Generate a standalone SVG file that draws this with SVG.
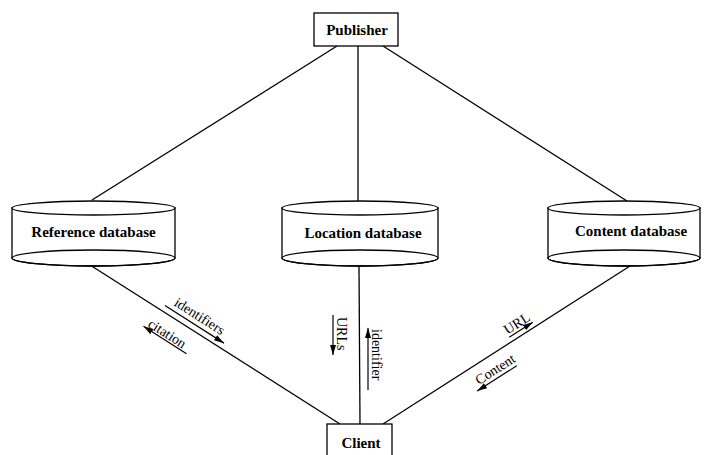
<svg xmlns="http://www.w3.org/2000/svg" width="705" height="455" viewBox="0 0 705 455">
<defs>
<marker id="ah" markerUnits="userSpaceOnUse" markerWidth="10" markerHeight="6" refX="10" refY="3" orient="auto">
<path d="M0,0 L10,3 L0,6 z" fill="#000"/>
</marker>
<style>
.ln{stroke:#000;stroke-width:1.3;fill:none}
.box{fill:#fff;stroke:#000;stroke-width:1.3}
.nl{font-family:"Liberation Serif",serif;font-weight:bold;font-size:15px;text-anchor:middle;fill:#000}
.el{font-family:"Liberation Serif",serif;font-size:14px;fill:#000}
.ar{stroke:#000;stroke-width:1.2;fill:none;marker-end:url(#ah)}
</style>
</defs>
<rect width="705" height="455" fill="#fff"/>
<g id="connectors">
<line class="ln" x1="337" y1="46" x2="92" y2="200"/>
<line class="ln" x1="358" y1="46" x2="358" y2="201"/>
<line class="ln" x1="383" y1="46" x2="627" y2="201"/>
<line class="ln" x1="90" y1="265" x2="340" y2="424"/>
<line class="ln" x1="359" y1="266" x2="360" y2="424"/>
<line class="ln" x1="630" y1="266" x2="383" y2="424"/>
<g transform="translate(90,265) rotate(32.46)">
<text class="el" x="120" y="-11" text-anchor="middle">identifiers</text>
<line class="ar" x1="85" y1="-6" x2="155" y2="-6"/>
<text class="el" x="102" y="21" text-anchor="middle">citation</text>
<line class="ar" x1="129" y1="23" x2="78" y2="23"/>
</g>
<g transform="translate(383,424) rotate(-32.6)">
<text class="el" x="167" y="-8" text-anchor="middle">URL</text>
<line class="ar" x1="153" y1="-5" x2="181" y2="-5"/>
<text class="el" x="124" y="19" text-anchor="middle">Content</text>
<line class="ar" x1="144" y1="23" x2="97" y2="23"/>
</g>
<text class="el" transform="translate(337,317) rotate(90)">URLs</text>
<line class="ar" x1="333" y1="315" x2="333" y2="355"/>
<text class="el" transform="translate(372,329) rotate(90)">identifier</text>
<line class="ar" x1="368" y1="390" x2="368" y2="328"/>
</g>
<g id="publisher">
<rect class="box" x="314" y="13" width="84" height="33"/>
<text class="nl" x="357" y="35">Publisher</text>
</g>
<g id="reference-db">
<path class="box" d="M12,208 L12,258 A81.5,8 0 0 0 175,258 L175,208 Z"/>
<ellipse class="box" cx="93.5" cy="208" rx="81.5" ry="7"/>
<ellipse class="ln" cx="93.5" cy="258" rx="81.5" ry="8"/>
<text class="nl" x="93.5" y="237">Reference database</text>
</g>
<g id="location-db">
<path class="box" d="M282,208 L282,258 A78,8 0 0 0 438,258 L438,208 Z"/>
<ellipse class="box" cx="360" cy="208" rx="78" ry="7"/>
<ellipse class="ln" cx="360" cy="258" rx="78" ry="8"/>
<text class="nl" x="363" y="238">Location database</text>
</g>
<g id="content-db">
<path class="box" d="M548,208 L548,258 A76,8 0 0 0 700,258 L700,208 Z"/>
<ellipse class="box" cx="624" cy="208" rx="76" ry="7"/>
<ellipse class="ln" cx="624" cy="258" rx="76" ry="8"/>
<text class="nl" x="631" y="236">Content database</text>
</g>
<g id="client">
<rect class="box" x="327" y="424" width="65" height="40"/>
<text class="nl" x="361" y="448">Client</text>
</g>
</svg>
